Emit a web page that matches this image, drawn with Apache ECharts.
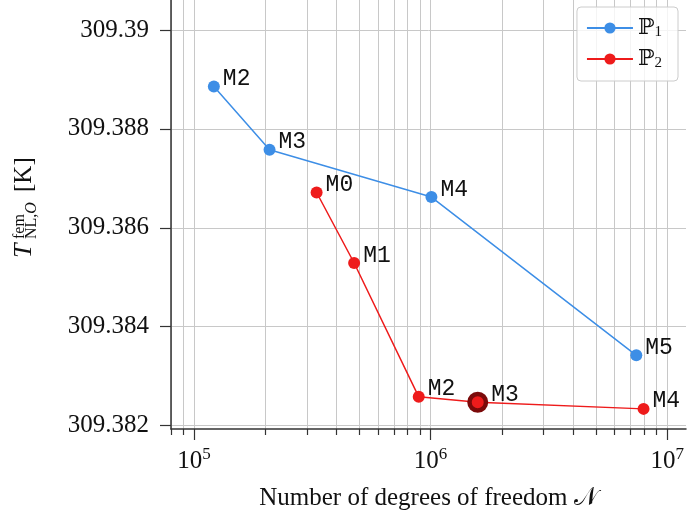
<!DOCTYPE html>
<html>
<head>
<meta charset="utf-8">
<script src="https://cdn.jsdelivr.net/npm/echarts@6/dist/echarts.min.js"></script>
<style>html,body{margin:0;padding:0;background:#fff}#c{width:687px;height:518px}</style>
</head>
<body>
<div id="c"></div>
<script>
// ---- data ----
const p1N = [1.214e5, 2.087e5, 1.008e6, 7.40e6];
const p1T = [309.388855, 309.387576, 309.38662, 309.38342];
const p1Labels = ['M2', 'M3', 'M4', 'M5'];
const p2N = [3.299e5, 4.753e5, 8.91e5, 1.582e6, 7.94e6];
const p2T = [309.386713, 309.385287, 309.38258, 309.382471, 309.382337];
const p2Labels = ['M0', 'M1', 'M2', 'M3', 'M4'];
const p2Highlight = 'M3';
const seriesNames = ['ℙ1', 'ℙ2'];
const xMajorTicks = [1e5, 1e6, 1e7];
const xMinorTicks = [8e4, 9e4, 2e5, 3e5, 4e5, 5e5, 6e5, 7e5, 8e5, 9e5, 2e6, 3e6, 4e6, 5e6, 6e6, 7e6, 8e6, 9e6];
const yTicks = [309.382, 309.384, 309.386, 309.388, 309.39];
const xRange = [8e4, 1.2e7];
const yRange = [309.38193, 309.390606];

const BLUE = '#3d8ee6', RED = '#ee1b1b', DARKRED = '#7b0a0a';
const SERIF = 'Liberation Serif';
const GRID = '#c8c8c8', AXIS = '#333';

function pts(xs, ys) { return xs.map((x, i) => [x, ys[i]]); }

const labelStyle = {
  show: true, position: 'right', distance: 3, offset: [0, -7.5],
  fontFamily: 'Liberation Mono', fontSize: 23, color: '#111'
};

const chart = echarts.init(document.getElementById('c'), null, {renderer: 'canvas'});
chart.setOption({
  animation: false,
  backgroundColor: '#fff',
  grid: {left: 171, right: 0, top: 0, bottom: 89, containLabel: false},
  xAxis: [{
    type: 'log', logBase: 10, min: xRange[0], max: xRange[1],
    position: 'bottom',
    name: 'Number of degrees of freedom 𝒩', nameLocation: 'middle', nameGap: 57,
    nameTextStyle: {fontFamily: SERIF, fontSize: 25, color: '#111'},
    axisLine: {show: true, lineStyle: {color: AXIS, width: 1.5}},
    axisTick: {show: true, inside: false, length: 11, customValues: xMajorTicks, lineStyle: {color: AXIS, width: 1.2}},
    axisLabel: {
      show: true, margin: 17, customValues: xMajorTicks,
      formatter: v => '{b|10}{s|' + Math.round(Math.log10(v)) + '}',
      rich: {
        b: {fontFamily: SERIF, fontSize: 25, color: '#111', lineHeight: 30, verticalAlign: 'middle'},
        s: {fontFamily: SERIF, fontSize: 17, color: '#111', lineHeight: 20, verticalAlign: 'top'}
      }
    },
    splitLine: {show: true, lineStyle: {color: GRID, width: 1}},
    minorTick: {show: false}, minorSplitLine: {show: false}
  }, {
    type: 'log', logBase: 10, min: xRange[0], max: xRange[1],
    position: 'bottom', offset: 0,
    axisLine: {show: false},
    axisTick: {show: true, inside: false, length: 6, customValues: xMinorTicks, lineStyle: {color: AXIS, width: 1.2}},
    axisLabel: {show: false},
    splitLine: {show: true, lineStyle: {color: GRID, width: 1}}
  }],
  yAxis: {
    type: 'value', min: yRange[0], max: yRange[1], scale: true,
    axisLine: {show: true, lineStyle: {color: AXIS, width: 1.5}},
    axisTick: {show: true, inside: false, length: 11, customValues: yTicks, lineStyle: {color: AXIS, width: 1.2}},
    axisLabel: {
      show: true, margin: 22, customValues: yTicks,
      formatter: v => String(+(+v).toFixed(3)),
      fontFamily: SERIF, fontSize: 25, color: '#111'
    },
    splitLine: {show: true, lineStyle: {color: GRID, width: 1}}
  },
  legend: {
    orient: 'vertical', right: 9, top: 7,
    itemWidth: 46, itemHeight: 14, itemGap: 8,
    padding: [10, 16, 10, 9],
    backgroundColor: 'rgba(255,255,255,0.8)', borderColor: '#cccccc', borderWidth: 1, borderRadius: 4,
    data: seriesNames,
    formatter: name => '{p|ℙ}{s|' + name.slice(1) + '}',
    textStyle: {
      rich: {
        p: {fontFamily: 'DejaVu Serif', fontSize: 22, color: '#111', lineHeight: 24, verticalAlign: 'middle'},
        s: {fontFamily: SERIF, fontSize: 15, color: '#111', lineHeight: 15, verticalAlign: 'bottom'}
      }
    }
  },
  graphic: [{
    type: 'group', x: 33, y: 258, rotation: Math.PI / 2,
    children: [
      {type: 'text', x: 0, y: -8.5, style: {text: 'T', fontFamily: SERIF, fontStyle: 'italic', fontSize: 26, fill: '#111', verticalAlign: 'middle', align: 'left'}},
      {type: 'text', x: 19, y: -13.4, style: {text: 'fem', fontFamily: SERIF, fontSize: 16, fill: '#111', verticalAlign: 'middle', align: 'left'}},
      {type: 'text', x: 19, y: -1.4, style: {text: 'NL,{i|O}', fontFamily: SERIF, fontSize: 16, fill: '#111', verticalAlign: 'middle', align: 'left',
        rich: {i: {fontFamily: SERIF, fontStyle: 'italic', fontSize: 16}}}},
      {type: 'text', x: 66, y: -8.5, style: {text: '[K]', fontFamily: SERIF, fontSize: 25, fill: '#111', verticalAlign: 'middle', align: 'left'}}
    ]
  }],
  series: [{
    name: seriesNames[0], type: 'line', xAxisIndex: 0,
    data: pts(p1N, p1T).map((p, i) => ({value: p, name: p1Labels[i]})),
    symbol: 'circle', symbolSize: 12,
    itemStyle: {color: BLUE},
    lineStyle: {color: BLUE, width: 1.5},
    label: Object.assign({formatter: p => p.name}, labelStyle),
    z: 3
  }, {
    name: seriesNames[1], type: 'line', xAxisIndex: 0,
    data: pts(p2N, p2T).map((p, i) => {
      const d = {value: p, name: p2Labels[i]};
      if (p2Labels[i] === p2Highlight) {
        d.symbolSize = 16.5;
        d.itemStyle = {color: RED, borderColor: DARKRED, borderWidth: 4.5};
      }
      return d;
    }),
    symbol: 'circle', symbolSize: 12,
    itemStyle: {color: RED},
    lineStyle: {color: RED, width: 1.5},
    label: Object.assign({formatter: p => p.name}, labelStyle),
    z: 3
  }]
});
</script>
</body>
</html>
